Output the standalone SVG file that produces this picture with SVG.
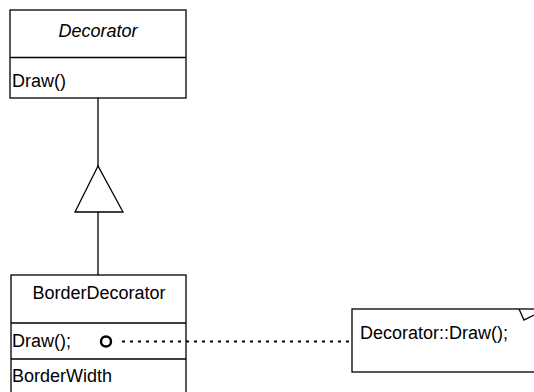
<svg xmlns="http://www.w3.org/2000/svg" width="534" height="392" viewBox="0 0 534 392">
<style>
.box{fill:#fff;stroke:#000;stroke-width:1.3}
.t{font-family:"Liberation Sans",Arial,sans-serif;font-size:18px;fill:#000}
.ln{stroke:#000;stroke-width:1.3;fill:none}
</style>
<rect width="534" height="392" fill="#fff"/>
<g id="decorator">
<rect class="box" x="10" y="10" width="176" height="88"/>
<line class="ln" x1="10" y1="57.5" x2="186" y2="57.5"/>
<text class="t" x="98" y="37" text-anchor="middle" font-style="italic">Decorator</text>
<text class="t" x="12" y="87">Draw()</text>
</g>
<g id="borderdecorator">
<rect class="box" x="11" y="275" width="175" height="130"/>
<line class="ln" x1="11" y1="323" x2="186" y2="323"/>
<line class="ln" x1="11" y1="359" x2="186" y2="359"/>
<text class="t" x="99" y="299" text-anchor="middle">BorderDecorator</text>
<text class="t" x="12" y="347">Draw();</text>
<text class="t" x="12" y="382">BorderWidth</text>
</g>
<g id="note">
<rect class="box" x="352" y="309" width="200" height="63"/>
<polyline class="ln" points="519,309 524,320 534,315"/>
<text class="t" x="360" y="339">Decorator::Draw();</text>
</g>
<g id="connectors">
<line class="ln" x1="98" y1="98" x2="98" y2="166"/>
<polygon class="ln" points="98,166 75,212 123,212" fill="#fff"/>
<line class="ln" x1="98" y1="212" x2="98" y2="275"/>
<circle cx="106" cy="341.5" r="5" fill="none" stroke="#000" stroke-width="2.4"/>
<line x1="122" y1="341.5" x2="350" y2="341.5" stroke="#000" stroke-width="2.2" stroke-dasharray="3,5"/>
</g>
</svg>
